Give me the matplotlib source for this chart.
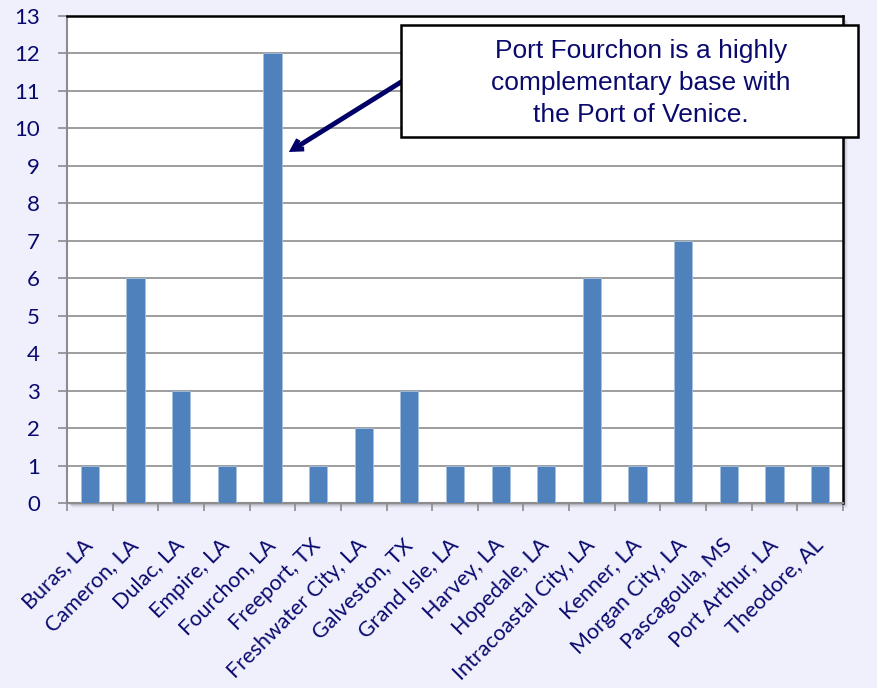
import matplotlib
matplotlib.use("Agg")
import matplotlib.pyplot as plt
from matplotlib.patches import Rectangle

ports = ["Buras, LA", "Cameron, LA", "Dulac, LA", "Empire, LA", "Fourchon, LA",
         "Freeport, TX", "Freshwater City, LA", "Galveston, TX", "Grand Isle, LA",
         "Harvey, LA", "Hopedale, LA", "Intracoastal City, LA", "Kenner, LA",
         "Morgan City, LA", "Pascagoula, MS", "Port Arthur, LA", "Theodore, AL"]
counts = [1, 6, 3, 1, 12, 1, 2, 3, 1, 1, 1, 6, 1, 7, 1, 1, 1]
y_ticks = list(range(0, 14))
note = "Port Fourchon is a highly\ncomplementary base with\nthe Port of Venice."

bg = "#F0F0FC"
navy = "#0A0A6E"
bar_color = "#4F81BD"

fig = plt.figure(figsize=(8.78, 6.88), dpi=100, facecolor=bg)
W, H = 878, 688
left, right, top, bottom = 67, 843, 16, 503
ax = fig.add_axes([left / W, 1 - bottom / H, (right - left) / W, (bottom - top) / H])
ax.set_facecolor("white")
ax.set_zorder(2)

# soft drop shadow behind the plot area
for i, a in enumerate([0.10, 0.07, 0.05, 0.03]):
    off = (i + 2)
    fig.patches.append(Rectangle(((left + off) / W, 1 - (bottom + off) / H),
                                 (right - left) / W, (bottom - top) / H,
                                 transform=fig.transFigure, facecolor="black",
                                 alpha=a, edgecolor="none", zorder=1))

x = list(range(len(ports)))
ax.bar(x, counts, width=0.4, color=bar_color, edgecolor="#A7BFDE", linewidth=0.6, zorder=3)

ax.set_xlim(-0.5, len(ports) - 0.5)
ax.set_ylim(0, 13)
ax.set_yticks(y_ticks)
ax.set_yticklabels([str(v) for v in y_ticks])
ax.yaxis.grid(True, color="#8C8C8C", linewidth=1.2, zorder=0)
ax.set_axisbelow(True)

ax.set_xticks([i - 0.5 for i in range(len(ports) + 1)], minor=False)
ax.set_xticklabels([""] * (len(ports) + 1))
ax.set_xticks(x, minor=True)
ax.set_xticklabels(ports, minor=True, rotation=45, ha="right", va="center",
                   rotation_mode="anchor", fontsize=15.5, color=navy, family="Lato")
ax.tick_params(axis="x", which="minor", length=0, pad=28)
ax.tick_params(axis="x", which="major", length=6, width=1.2, color="#8C8C8C", direction="out")
ax.tick_params(axis="y", length=6.5, width=1.2, color="#8C8C8C", direction="out",
               labelsize=16, labelcolor=navy, pad=13)
for lab in ax.get_yticklabels():
    lab.set_family("Lato")

for s in ["left", "bottom"]:
    ax.spines[s].set_color("#8C8C8C")
    ax.spines[s].set_linewidth(1.5)
for s in ["top", "right"]:
    ax.spines[s].set_color("black")
    ax.spines[s].set_linewidth(1.8)

# callout box and arrow
ax.annotate("", xy=(4.36, 9.37), xytext=(6.9, 11.3),
            arrowprops=dict(arrowstyle="->,head_length=0.7,head_width=0.4",
                            color="#000066", lw=3.5, shrinkA=0, shrinkB=0,
                            joinstyle="miter", capstyle="butt"),
            zorder=5)
bx0, by0, bx1, by1 = 401, 25, 858, 137
fig.patches.append(Rectangle((bx0 / W, 1 - by1 / H), (bx1 - bx0) / W, (by1 - by0) / H,
                             transform=fig.transFigure, facecolor="white",
                             edgecolor="black", linewidth=1.8, zorder=10))
fig.text((bx0 + bx1) / 2 / W + 0.013, 1 - ((by0 + by1) / 2 + 2) / H, note,
         ha="center", va="center", fontsize=19, color=navy, family="Liberation Sans",
         linespacing=1.4, zorder=11)

fig.savefig("out.png", dpi=100, facecolor=bg)
